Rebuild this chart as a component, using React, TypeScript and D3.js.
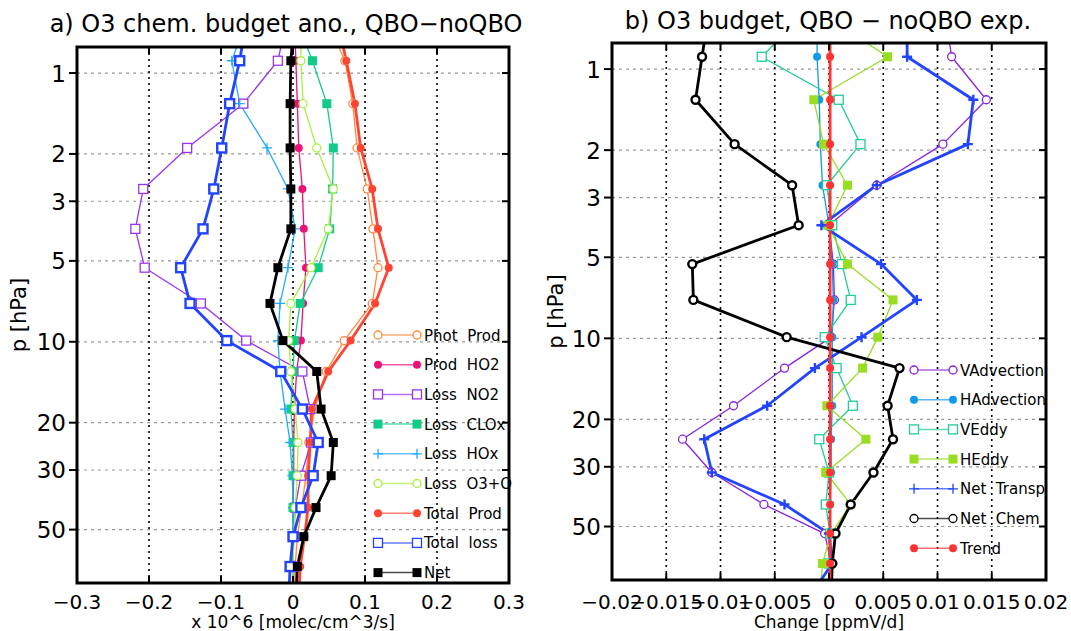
import * as d3 from 'd3';
import React from 'react';

// pressure levels [hPa]; first and last are just outside the plotted range
const levels = [0.66, 0.9, 1.3, 1.9, 2.7, 3.8, 5.3, 7.2, 9.9, 12.9, 17.8, 23.7, 31.5, 41.4, 53.1, 68.6, 90];

// panel a) chemical budget anomalies [x 10^6 molec/cm^3/s]
const photProd = [0.05, 0.072, 0.083, 0.089, 0.103, 0.111, 0.118, 0.11, 0.071, 0.046, 0.03, 0.022, 0.018, 0.012, 0.006, 0.003, 0.002];
const prodHO2 = [0.002, 0.004, 0.006, 0.008, 0.013, 0.015, 0.018, 0.014, 0.011, 0.005, 0.002, 0.001, 0.001, 0.0, 0.0, 0.0, 0.0];
const lossNO2 = [-0.01, -0.021, -0.069, -0.147, -0.208, -0.219, -0.206, -0.128, -0.065, 0.013, 0.024, 0.025, 0.011, 0.003, 0.001, 0.0, 0.0];
const lossCLOx = [0.007, 0.027, 0.047, 0.056, 0.055, 0.051, 0.035, 0.01, 0.002, 0.0, -0.003, 0.0, 0.0, 0.0, 0.0, 0.0, 0.0];
const lossHOx = [-0.067, -0.085, -0.074, -0.036, -0.007, 0.003, -0.007, -0.018, -0.021, -0.018, -0.011, -0.004, -0.001, 0.0, 0.0, 0.0, 0.0];
const lossO3O = [0.011, 0.011, 0.014, 0.033, 0.056, 0.049, 0.025, -0.003, -0.006, -0.003, 0.003, 0.007, 0.006, 0.003, 0.001, 0.0, 0.0];
const totalProd = [0.063, 0.074, 0.086, 0.094, 0.11, 0.118, 0.133, 0.114, 0.08, 0.049, 0.026, 0.024, 0.021, 0.021, 0.016, 0.01, 0.008];
const totalLoss = [-0.066, -0.074, -0.088, -0.099, -0.11, -0.125, -0.156, -0.143, -0.092, -0.017, 0.013, 0.035, 0.028, 0.011, 0.0, -0.004, -0.006];
const net = [0.001, -0.003, -0.004, -0.004, -0.003, -0.003, -0.021, -0.032, -0.014, 0.033, 0.039, 0.056, 0.053, 0.032, 0.015, 0.006, 0.004];

// panel b) budget terms [ppmV/d]
const vAdvection = [0.0108, 0.0113, 0.0145, 0.0105, 0.0044, 0.0, 0.0004, 0.0005, 0.0002, -0.0041, -0.0088, -0.0135, -0.0108, -0.006, -0.0004, 0.0002, 0.0002];
const hAdvection = [-0.0011, -0.0011, -0.0009, -0.0008, -0.0006, 0.0, 0.0003, 0.0004, 0.0003, 0.0003, 0.0003, 0.0002, 0.0002, 0.0001, 0.0001, 0.0, 0.0];
const vEddy = [-0.0029, -0.0062, 0.0009, 0.0029, -0.0002, 0.0003, 0.0012, 0.002, -0.0004, 0.0007, 0.0022, -0.0009, 0.0, -0.0003, 0.0001, 0.0, 0.0];
const hEddy = [0.0004, 0.0054, -0.0014, -0.0005, 0.0017, -0.0001, 0.0017, 0.0059, 0.0045, 0.0031, -0.0002, 0.0034, -0.0003, 0.002, 0.0002, -0.0006, -0.0008];
const netTransp = [0.0072, 0.0072, 0.0133, 0.0128, 0.0044, -0.0007, 0.0048, 0.0081, 0.003, -0.0013, -0.0057, -0.0115, -0.0108, -0.0041, 0.0, 0.0003, -0.0017];
const netChem = [-0.0112, -0.0117, -0.0123, -0.0087, -0.0034, -0.0028, -0.0126, -0.0125, -0.0039, 0.0065, 0.0054, 0.0059, 0.0041, 0.002, 0.0006, 0.0003, 0.0002];
const trend = [0.0001, 0.0001, 0.0001, 0.0001, 0.0001, 0.0001, 0.0001, 0.0001, 0.0001, 0.0001, 0.0001, 0.0001, 0.0001, 0.0001, 0.0001, 0.0001, 0.0001];

const pTicks = [1, 2, 3, 5, 10, 20, 30, 50];
const xTicksA = [-0.3, -0.2, -0.1, 0, 0.1, 0.2, 0.3];
const xTicksB = [-0.02, -0.015, -0.01, -0.005, 0, 0.005, 0.01, 0.015, 0.02];

type Marker = 'circleOpen' | 'circleFilled' | 'squareOpen' | 'squareFilled' | 'plus';
type Series = { name: string; values: number[]; color: string; marker: Marker; width: number };

const seriesA: Series[] = [
  { name: 'Phot  Prod', values: photProd, color: '#ff8a3d', marker: 'circleOpen', width: 1.3 },
  { name: 'Prod  HO2', values: prodHO2, color: '#ee1177', marker: 'circleFilled', width: 1.3 },
  { name: 'Loss  NO2', values: lossNO2, color: '#9a33ee', marker: 'squareOpen', width: 1.3 },
  { name: 'Loss  CLOx', values: lossCLOx, color: '#11cc88', marker: 'squareFilled', width: 1.3 },
  { name: 'Loss  HOx', values: lossHOx, color: '#22aaff', marker: 'plus', width: 1.3 },
  { name: 'Loss  O3+O', values: lossO3O, color: '#aaee44', marker: 'circleOpen', width: 1.3 },
  { name: 'Total  Prod', values: totalProd, color: '#ff4433', marker: 'circleFilled', width: 2.8 },
  { name: 'Total  loss', values: totalLoss, color: '#2244ff', marker: 'squareOpen', width: 2.8 },
  { name: 'Net', values: net, color: '#000000', marker: 'squareFilled', width: 2.8 },
];

const seriesB: Series[] = [
  { name: 'VAdvection', values: vAdvection, color: '#8822dd', marker: 'circleOpen', width: 1.3 },
  { name: 'HAdvection', values: hAdvection, color: '#1199ee', marker: 'circleFilled', width: 1.3 },
  { name: 'VEddy', values: vEddy, color: '#22cc99', marker: 'squareOpen', width: 1.3 },
  { name: 'HEddy', values: hEddy, color: '#99dd22', marker: 'squareFilled', width: 1.3 },
  { name: 'Net  Transp', values: netTransp, color: '#2244ff', marker: 'plus', width: 2.8 },
  { name: 'Net  Chem', values: netChem, color: '#000000', marker: 'circleOpen', width: 2.8 },
  { name: 'Trend', values: trend, color: '#ff3333', marker: 'circleFilled', width: 2.8 },
];

const FONT = 'DejaVu Sans, sans-serif';

const Sym: React.FC<{ m: Marker; x: number; y: number; color: string; thick: boolean }> = ({ m, x, y, color, thick }) => {
  const sw = thick ? 2.4 : 1.3;
  if (m === 'circleOpen') return <circle cx={x} cy={y} r={4} fill="#fff" stroke={color} strokeWidth={sw} />;
  if (m === 'circleFilled') return <circle cx={x} cy={y} r={4} fill={color} />;
  if (m === 'squareOpen') return <rect x={x - 4.5} y={y - 4.5} width={9} height={9} fill="#fff" stroke={color} strokeWidth={sw} />;
  if (m === 'squareFilled') return <rect x={x - 4.5} y={y - 4.5} width={9} height={9} fill={color} />;
  return (
    <path d={`M${x - 5},${y}H${x + 5}M${x},${y - 5}V${y + 5}`} stroke={color} strokeWidth={sw} />
  );
};

type PanelProps = {
  id: string;
  left: number;
  right: number;
  top: number;
  bottom: number;
  xDomain: [number, number];
  xTicks: number[];
  xFmt: (v: number) => string;
  series: Series[];
  title: string;
  titleX: number;
  titleY: number;
  xTitle: string;
  yTitleX: number;
  legendX: number;
  legendY: number;
  legendStep: number;
};

const Panel: React.FC<PanelProps> = p => {
  const x = d3.scaleLinear().domain(p.xDomain).range([p.left, p.right]);
  const y = d3.scaleLog().domain([0.8, 79]).range([p.top, p.bottom]);
  const line = d3
    .line<number>()
    .x(d => x(d))
    .y((_, i) => y(levels[i]));
  const innerTicks = p.xTicks.slice(1, -1);
  return (
    <g>
      <defs>
        <clipPath id={p.id}>
          <rect x={p.left} y={p.top} width={p.right - p.left} height={p.bottom - p.top} />
        </clipPath>
      </defs>
      {/* grid */}
      {pTicks.map(t => (
        <line key={'h' + t} x1={p.left} x2={p.right} y1={y(t)} y2={y(t)} stroke="#999" strokeWidth={1.2} strokeDasharray="3,4" />
      ))}
      {innerTicks.map(t => (
        <line key={'v' + t} x1={x(t)} x2={x(t)} y1={p.top} y2={p.bottom} stroke="#000" strokeWidth={1.6} strokeDasharray="2,4" />
      ))}
      {/* series */}
      <g clipPath={`url(#${p.id})`}>
        {p.series.map(s => (
          <path key={s.name} d={line(s.values) || ''} fill="none" stroke={s.color} strokeWidth={s.width} strokeLinejoin="round" />
        ))}
        {p.series.map(s =>
          s.values.map((v, i) => (
            <Sym key={s.name + i} m={s.marker} x={x(v)} y={y(levels[i])} color={s.color} thick={s.width > 2} />
          ))
        )}
      </g>
      {/* legend */}
      {p.series.map((s, i) => {
        const ly = p.legendY + i * p.legendStep;
        return (
          <g key={'lg' + s.name}>
            <line x1={p.legendX} x2={p.legendX + 39} y1={ly} y2={ly} stroke={s.color} strokeOpacity={0.7} strokeWidth={1.5} />
            <Sym m={s.marker} x={p.legendX} y={ly} color={s.color} thick={false} />
            <Sym m={s.marker} x={p.legendX + 39} y={ly} color={s.color} thick={false} />
            <text x={p.legendX + 46} y={ly + 5.5} fontFamily={FONT} fontSize={15} xmlSpace="preserve">
              {s.name}
            </text>
          </g>
        );
      })}
      {/* frame and ticks */}
      <rect x={p.left} y={p.top} width={p.right - p.left} height={p.bottom - p.top} fill="none" stroke="#000" strokeWidth={3} />
      {p.xTicks.map(t => (
        <g key={'xt' + t}>
          <line x1={x(t)} x2={x(t)} y1={p.bottom} y2={p.bottom - 7} stroke="#000" strokeWidth={2} />
          <line x1={x(t)} x2={x(t)} y1={p.top} y2={p.top + 7} stroke="#000" strokeWidth={2} />
          <text x={x(t)} y={609} textAnchor="middle" fontFamily={FONT} fontSize={20}>
            {p.xFmt(t)}
          </text>
        </g>
      ))}
      {pTicks.map(t => (
        <g key={'yt' + t}>
          <line x1={p.left - 8} x2={p.left} y1={y(t)} y2={y(t)} stroke="#000" strokeWidth={2} />
          <line x1={p.right} x2={p.right - 7} y1={y(t)} y2={y(t)} stroke="#000" strokeWidth={2} />
          <text x={p.left - 11} y={y(t) + 8.5} textAnchor="end" fontFamily={FONT} fontSize={23}>
            {t}
          </text>
        </g>
      ))}
      <text x={p.titleX} y={p.titleY} textAnchor="middle" fontFamily={FONT} fontSize={24}>
        {p.title}
      </text>
      <text x={(p.left + p.right) / 2} y={628} textAnchor="middle" fontFamily={FONT} fontSize={17}>
        {p.xTitle}
      </text>
      <text
        transform={`translate(${p.yTitleX},${(p.top + p.bottom) / 2}) rotate(-90)`}
        textAnchor="middle"
        fontFamily={FONT}
        fontSize={21}
      >
        p [hPa]
      </text>
    </g>
  );
};

const fmt = (v: number) => (v === 0 ? '0' : String(v).replace('-', '\u2212'));

const App: React.FC = () => (
  <svg width={1071} height={631} style={{ display: 'block', position: 'absolute', left: 0, top: 0, background: '#fff' }}>
    <rect width={1071} height={631} fill="#fff" />
    <Panel
      id="clipA"
      left={77}
      right={509}
      top={47}
      bottom={583}
      xDomain={[-0.3, 0.3]}
      xTicks={xTicksA}
      xFmt={fmt}
      series={seriesA}
      title={'a) O3 chem. budget ano., QBO\u2212noQBO'}
      titleX={286}
      titleY={32}
      xTitle="x 10^6 [molec/cm^3/s]"
      yTitleX={26}
      legendX={378}
      legendY={335}
      legendStep={29.7}
    />
    <Panel
      id="clipB"
      left={612}
      right={1046}
      top={43}
      bottom={580}
      xDomain={[-0.02, 0.02]}
      xTicks={xTicksB}
      xFmt={fmt}
      series={seriesB}
      title={'b) O3 budget, QBO \u2212 noQBO exp.'}
      titleX={828}
      titleY={29}
      xTitle="Change [ppmV/d]"
      yTitleX={563}
      legendX={914}
      legendY={370}
      legendStep={29.7}
    />
  </svg>
);

export default App;
